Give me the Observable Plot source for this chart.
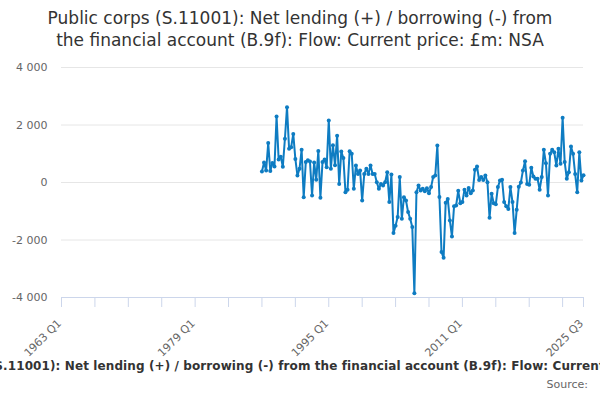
<!DOCTYPE html>
<html>
<head>
<meta charset="utf-8">
<script src="https://cdn.jsdelivr.net/npm/d3@7"></script>
<script src="https://cdn.jsdelivr.net/npm/@observablehq/plot@0.6"></script>
<style>
  html, body { margin: 0; padding: 0; background: #fff; }
  body { width: 600px; height: 400px; overflow: hidden; font-family: "DejaVu Sans", sans-serif; }
  #title { height: 60px; box-sizing: border-box; padding-top: 7px; text-align: center; font-size: 17px; line-height: 22px; color: #333; }
  #chart { height: 300px; }
  #legend { display: flex; justify-content: center; overflow: hidden; white-space: nowrap; width: 600px; height: 16px; line-height: 16px; margin-top: -2px; font-size: 12px; letter-spacing: 0.1px; font-weight: bold; color: #333; }
  #legend span { position: relative; left: 6px; }
  #source { text-align: right; padding-right: 12px; font-size: 11px; line-height: 14px; margin-top: 4px; color: #666; }
</style>
</head>
<body>
<div id="title">Public corps (S.11001): Net lending (+) / borrowing (-) from<br>the financial account (B.9f): Flow: Current price: £m: NSA</div>
<div id="chart"></div>
<div id="legend"><span>Public corps (S.11001): Net lending (+) / borrowing (-) from the financial account (B.9f): Flow: Current price: £m: NSA</span></div>
<div id="source">Source:</div>
<script>
// ---- data ----
const axisStart = "1963 Q1";
const axisEnd = "2025 Q3";
const firstQuarter = "1987 Q1";
const values = [
  380, 700, 420, 1370, 400, 680, 560, 2300, 800, 900, 550, 1520, 2620, 1170, 1230, 1690,
  820, 240, 480, 1140, -510, 710, 770, 730, -450, 700, 100, 1100, -530, 710, 800, 530,
  2160, 480, 1300, 600, 1630, -50, 1080, 850, -340, -250, 1090, 1000, -220, 590, 300, 420,
  -630, 300, 480, 300, 590, 300, 300, 10, -220, -50, -100, 10, 360, -680, 280, -1760,
  -1500, -1200, 190, -1260, -510, -630, -1030, -1260, -1550, -3850, -340, -100, -280, -220, -300, -200,
  -370, -160, 190, 240, 1290, -500, -2420, -2620, -700, -570, -1320, -1880, -830, -800, -290, -720,
  -680, -250, -450, -190, -370, -280, 440, 560, 90, 190, 90, 240, 10, -1230, -390, -720,
  -760, -160, 70, 100, -680, -830, -920, -160, -680, -1760, -950, -150, 0, 420, 740, -50,
  -80, 510, 210, 130, 130, -250, 190, 1140, 670, -450, 1000, 1140, 1050, 590, 1170, 650,
  2250, 710, 130, 360, 1250, 1000, 300, -340, 1050, 70, 250
];
const tickLabels = ["1963 Q1", "1979 Q1", "1995 Q1", "2011 Q1", "2025 Q3"];
const yTicks = [-4000, -2000, 0, 2000, 4000];

// ---- helpers ----
const parseQ = s => { const [y, q] = s.split(" Q"); return (+y) * 4 + (+q - 1); };
const base = parseQ(axisStart);
const idx = s => parseQ(s) - base;
const lastIdx = idx(axisEnd);
const startIdx = idx(firstQuarter);
const labelOf = i => { const t = base + i; return `${Math.floor(t / 4)} Q${(t % 4) + 1}`; };

const data = values.map((v, i) => ({ q: startIdx + i, v }));
const minorTicks = d3.range(0, lastIdx, 16).concat([lastIdx]);
const labelTicks = tickLabels.map(idx);
const fmt = d => d3.format(",")(d).replace(/,/g, " ").replace("\u2212", "-");
const color = "#0e7cc2";

const chart = Plot.plot({
  width: 600,
  height: 300,
  marginTop: 7,
  marginBottom: 63,
  marginLeft: 61,
  marginRight: 17,
  style: { fontFamily: "'DejaVu Sans', sans-serif", fontSize: "11px", color: "#666", background: "transparent" },
  x: { domain: [0, lastIdx], axis: null },
  y: { domain: [-4000, 4000], axis: null },
  marks: [
    Plot.gridY(yTicks, { stroke: "#e6e6e6", strokeOpacity: 1 }),
    Plot.axisY(yTicks, { tickSize: 0, tickPadding: 14, tickFormat: fmt, fill: "#666", label: null }),
    Plot.ruleY([-4000], { stroke: "#ccd6eb" }),
    Plot.axisX(minorTicks, { tickSize: 10, text: null, stroke: "#ccd6eb", strokeOpacity: 1, label: null }),
    Plot.axisX(labelTicks, { tickSize: 0, tickPadding: 24, dx: -2, tickRotate: -45, tickFormat: labelOf, fill: "#666", label: null }),
    Plot.line(data, { x: "q", y: "v", stroke: color, strokeWidth: 2 }),
    Plot.dot(data, { x: "q", y: "v", r: 2, fill: color, stroke: null })
  ]
});
document.getElementById("chart").appendChild(chart);
</script>
</body>
</html>
